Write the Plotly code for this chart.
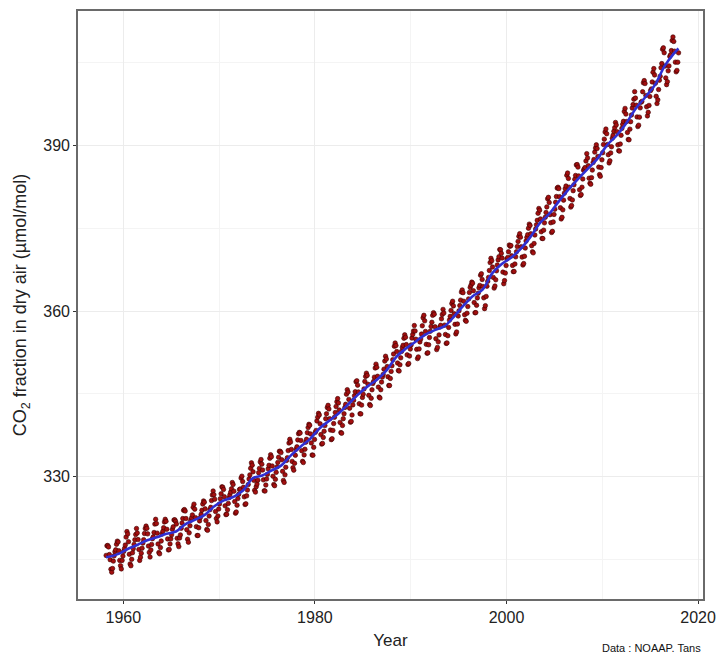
import plotly.graph_objects as go

# Monthly mean CO2 (ppm), Mauna Loa, Mar 1958 - Dec 2017
co2_1958_1959 = [315.70, 317.45, 317.51, 317.24, 315.86, 314.93, 313.20, 312.66, 313.33, 314.67,
                 315.62, 316.38, 316.71, 317.72, 318.29, 318.15, 316.54, 314.80, 313.84, 313.26, 314.80, 315.58]
co2_1960s = [
    316.43, 316.97, 317.58, 319.02, 320.03, 319.59, 318.18, 315.91, 314.16, 313.83, 315.00, 316.19,
    316.93, 317.70, 318.54, 319.48, 320.58, 319.77, 318.57, 316.79, 314.80, 315.38, 316.10, 317.01,
    317.94, 318.56, 319.68, 320.57, 321.02, 320.62, 319.61, 317.40, 316.25, 315.42, 316.69, 317.70,
    318.74, 319.07, 319.86, 321.38, 322.25, 321.48, 319.74, 317.77, 316.21, 315.99, 317.12, 318.31,
    319.57, 320.07, 320.73, 321.77, 322.25, 321.89, 320.44, 318.70, 316.70, 316.79, 317.79, 318.71,
    319.44, 320.44, 320.89, 322.13, 322.16, 321.87, 321.39, 318.81, 317.81, 317.30, 318.87, 319.42,
    320.62, 321.59, 322.39, 323.87, 324.01, 323.75, 322.39, 320.37, 318.64, 318.10, 319.79, 321.08,
    322.07, 322.50, 323.04, 324.42, 325.00, 324.09, 322.55, 320.92, 319.31, 319.31, 320.72, 321.96,
    322.57, 323.15, 323.89, 325.02, 325.57, 325.36, 324.14, 322.03, 320.41, 320.25, 321.31, 322.84,
    324.00, 324.42, 325.64, 326.66, 327.38, 326.70, 325.89, 323.67, 322.38, 321.78, 322.85, 324.12]
co2_1970s = [
    325.03, 325.99, 326.87, 328.13, 328.07, 327.66, 326.35, 324.69, 323.10, 323.16, 323.98, 325.13,
    326.17, 326.68, 327.18, 327.78, 328.92, 328.57, 327.34, 325.46, 323.36, 323.57, 324.80, 326.01,
    326.77, 327.63, 327.75, 329.72, 330.07, 329.09, 328.05, 326.32, 324.93, 325.06, 326.50, 327.55,
    328.54, 329.56, 330.30, 331.50, 332.48, 332.07, 330.87, 329.31, 327.51, 327.18, 328.16, 328.64,
    329.35, 330.71, 331.48, 332.65, 333.09, 332.25, 331.18, 329.40, 327.43, 327.37, 328.46, 329.57,
    330.40, 331.40, 332.04, 333.31, 333.96, 333.59, 331.91, 330.06, 328.56, 328.34, 329.49, 330.76,
    331.75, 332.56, 333.50, 334.58, 334.57, 334.34, 333.05, 330.94, 329.30, 328.94, 330.31, 331.68,
    332.93, 333.42, 334.70, 336.07, 336.75, 336.27, 334.92, 332.75, 331.59, 331.16, 332.40, 333.85,
    334.97, 335.39, 336.64, 337.76, 338.01, 337.89, 336.54, 334.68, 332.76, 332.54, 333.92, 334.95,
    336.23, 336.76, 337.96, 338.88, 339.47, 339.29, 337.73, 336.09, 333.91, 333.86, 335.29, 336.73]
co2_1980s = [
    338.01, 338.36, 340.08, 340.77, 341.46, 341.17, 339.56, 337.60, 335.88, 336.01, 337.10, 338.21,
    339.24, 340.48, 341.38, 342.51, 342.91, 342.25, 340.49, 338.43, 336.69, 336.86, 338.36, 339.61,
    340.75, 341.61, 342.70, 343.56, 344.13, 343.35, 342.06, 339.82, 337.97, 337.86, 339.26, 340.49,
    341.38, 342.52, 343.10, 344.94, 345.75, 345.32, 343.99, 342.39, 339.86, 339.99, 341.16, 342.99,
    343.82, 344.63, 345.38, 347.19, 347.36, 346.57, 345.34, 343.21, 341.39, 341.36, 342.95, 344.34,
    344.93, 345.89, 347.25, 348.16, 348.74, 348.34, 346.73, 344.72, 343.06, 342.87, 344.19, 345.73,
    346.87, 347.24, 348.02, 349.68, 350.38, 349.81, 348.18, 346.22, 344.41, 344.24, 345.74, 347.13,
    348.03, 348.51, 349.47, 350.93, 351.81, 351.31, 349.94, 348.10, 346.51, 346.49, 347.79, 349.06,
    350.09, 351.18, 352.21, 353.62, 354.21, 353.75, 352.67, 350.58, 349.23, 349.13, 350.27, 351.52,
    352.69, 353.41, 353.80, 355.07, 355.69, 355.25, 353.92, 352.06, 350.33, 350.50, 351.85, 353.12]
co2_1990s = [
    353.86, 355.10, 355.75, 356.38, 357.38, 356.39, 354.89, 353.06, 351.38, 351.69, 353.14, 354.41,
    354.93, 355.82, 357.33, 358.77, 359.23, 358.23, 356.30, 353.97, 352.34, 352.43, 353.89, 355.21,
    356.34, 357.21, 357.97, 359.22, 359.71, 359.43, 357.15, 354.99, 353.01, 353.41, 354.42, 355.68,
    357.10, 357.42, 358.59, 359.39, 360.30, 359.64, 357.45, 355.76, 354.14, 354.23, 355.53, 357.03,
    358.36, 359.04, 360.11, 361.36, 361.78, 360.94, 359.51, 357.59, 355.86, 356.21, 357.65, 359.10,
    360.04, 361.00, 361.98, 363.44, 363.83, 363.33, 361.78, 359.33, 358.32, 358.14, 359.61, 360.82,
    362.20, 363.36, 364.28, 364.69, 365.25, 365.06, 363.69, 361.55, 359.69, 359.72, 361.04, 362.39,
    363.24, 364.21, 364.65, 366.49, 366.77, 365.73, 364.46, 362.40, 360.44, 360.98, 362.65, 364.51,
    365.39, 366.10, 367.36, 368.79, 369.56, 369.13, 367.98, 366.10, 364.16, 364.54, 365.67, 367.30,
    368.35, 369.28, 369.84, 371.15, 371.12, 370.46, 369.61, 367.06, 364.95, 365.52, 366.88, 368.26]
co2_2000s = [
    369.45, 369.71, 370.75, 371.98, 371.75, 371.87, 370.02, 368.27, 367.15, 367.18, 368.53, 369.83,
    370.76, 371.69, 372.63, 373.55, 374.03, 373.40, 371.68, 369.78, 368.34, 368.61, 369.94, 371.42,
    372.70, 373.37, 373.85, 375.02, 375.76, 375.52, 374.01, 371.85, 370.75, 370.55, 372.25, 373.79,
    374.88, 375.64, 376.45, 377.73, 378.60, 378.28, 376.70, 374.38, 373.17, 373.14, 374.66, 375.99,
    377.00, 377.87, 378.88, 380.35, 380.62, 379.69, 377.47, 376.01, 374.25, 374.46, 376.16, 377.51,
    378.46, 379.73, 380.77, 382.29, 382.45, 382.21, 380.74, 378.74, 376.70, 377.00, 378.35, 380.11,
    381.38, 382.19, 382.67, 384.61, 385.03, 384.05, 382.46, 380.41, 378.85, 379.13, 380.15, 381.82,
    382.89, 383.90, 384.58, 386.50, 386.56, 386.10, 384.50, 381.99, 380.96, 381.12, 382.45, 383.95,
    385.52, 385.82, 386.03, 387.21, 388.54, 387.76, 386.36, 384.09, 383.18, 382.99, 384.19, 385.56,
    386.94, 387.48, 388.82, 389.55, 390.14, 389.48, 388.03, 386.11, 384.74, 384.43, 386.02, 387.42]
co2_2010s = [
    388.71, 390.20, 391.17, 392.46, 393.00, 392.15, 390.20, 388.35, 386.85, 387.24, 388.67, 389.79,
    391.33, 391.86, 392.60, 393.25, 394.19, 393.74, 392.51, 390.13, 389.08, 389.00, 390.28, 391.86,
    393.12, 393.86, 394.40, 396.18, 396.74, 395.71, 394.36, 392.39, 391.11, 391.05, 392.98, 394.34,
    395.55, 396.80, 397.43, 398.41, 399.78, 398.61, 397.32, 395.20, 393.45, 393.70, 395.16, 396.84,
    397.85, 398.01, 399.77, 401.38, 401.78, 401.25, 399.10, 397.03, 395.38, 396.03, 397.28, 398.91,
    399.98, 400.28, 401.54, 403.28, 403.96, 402.80, 401.31, 398.93, 397.63, 398.29, 400.16, 401.85,
    402.56, 404.12, 404.87, 407.45, 407.72, 406.83, 404.41, 402.27, 401.05, 401.59, 403.55, 404.45,
    406.17, 406.46, 407.22, 409.04, 409.69, 408.88, 407.12, 405.13, 403.37, 403.63, 405.12, 406.81]

# Smoothed trend (blue line): dates (decimal years) and values (ppm)
trend_years = [1958.2, 1958.5, 1959.5, 1960.5, 1961.5, 1962.5, 1963.5, 1964.5, 1965.5, 1966.5, 1967.5,
               1968.5, 1969.5, 1970.5, 1971.5, 1972.5, 1973.5, 1974.5, 1975.5, 1976.5, 1977.5,
               1978.5, 1979.5, 1980.5, 1981.5, 1982.5, 1983.5, 1984.5, 1985.5, 1986.5, 1987.5,
               1988.5, 1989.5, 1990.5, 1991.5, 1992.5, 1993.5, 1994.5, 1995.5, 1996.5, 1997.5,
               1998.5, 1999.5, 2000.5, 2001.5, 2002.5, 2003.5, 2004.5, 2005.5, 2006.5, 2007.5,
               2008.5, 2009.5, 2010.5, 2011.5, 2012.5, 2013.5, 2014.5, 2015.5, 2016.5, 2017.5, 2017.95]
trend_values = [315.40, 315.45, 315.98, 316.91, 317.64, 318.45, 318.99, 319.62, 320.04, 321.37, 322.18,
                323.05, 324.62, 325.68, 326.32, 327.46, 329.68, 330.19, 331.13, 332.03, 333.84,
                335.41, 336.84, 338.76, 340.12, 341.48, 343.15, 344.85, 346.35, 347.61, 349.31,
                351.69, 353.20, 354.45, 355.70, 356.54, 357.21, 358.96, 360.97, 362.74, 363.88,
                366.84, 368.54, 369.71, 371.32, 373.45, 375.98, 377.70, 379.98, 382.09, 384.02,
                385.83, 387.64, 390.10, 391.85, 394.06, 396.74, 398.81, 401.01, 404.41, 406.76, 407.60]

x_ticks = [1960, 1980, 2000, 2020]
y_ticks = [330, 360, 390]

monthly = co2_1958_1959 + co2_1960s + co2_1970s + co2_1980s + co2_1990s + co2_2000s + co2_2010s
dates = [1958 + (2 + i + 0.5) / 12 for i in range(len(monthly))]

fig = go.Figure()
fig.add_trace(go.Scatter(
    x=dates, y=monthly, mode="markers",
    marker=dict(color="#a30f0f", size=4.5, line=dict(color="#3d0000", width=0.6)),
    showlegend=False, hoverinfo="skip"))
fig.add_trace(go.Scatter(
    x=trend_years, y=trend_values, mode="lines", line_shape="spline",
    line=dict(color="#2f2fd2", width=2.6),
    showlegend=False, hoverinfo="skip"))

font_family = "Liberation Sans, Arial, Helvetica, sans-serif"
axis_common = dict(
    showline=True, linecolor="#6a6a6a", linewidth=1.6, mirror=True,
    ticks="outside", ticklen=3, tickwidth=1, tickcolor="#333333",
    tickfont=dict(size=16, color="#222222", family=font_family),
    showgrid=True, gridcolor="#ececec", gridwidth=1, zeroline=False,
)

fig.update_layout(
    width=725, height=657,
    margin=dict(l=78, r=13, t=9, b=58),
    paper_bgcolor="white", plot_bgcolor="white",
    font=dict(family=font_family, color="#222222"),
    xaxis=dict(
        range=[1955.27, 2020.51], tickmode="array", tickvals=x_ticks,
        ticktext=[str(v) for v in x_ticks],
        minor=dict(dtick=10, tick0=1960, showgrid=True, gridcolor="#f4f4f4", ticks=""),
        title=dict(text="Year", font=dict(size=17, color="#222222"), standoff=9),
        **axis_common),
    yaxis=dict(
        range=[307.8, 414.4], tickmode="array", tickvals=y_ticks,
        ticktext=[str(v) for v in y_ticks],
        minor=dict(dtick=15, tick0=330, showgrid=True, gridcolor="#f4f4f4", ticks=""),
        title=dict(text="CO<sub>2</sub> fraction in dry air (µmol/mol)",
                   font=dict(size=18, color="#222222"), standoff=12),
        **axis_common),
    annotations=[dict(
        text="Data : NOAAP. Tans", xref="paper", yref="paper", x=1.0, y=-0.083,
        xanchor="right", yanchor="middle", showarrow=False,
        font=dict(size=11, color="#111111",
                  family="Liberation Sans Narrow, Liberation Sans, Arial, sans-serif"))],
)

fig.write_html("out.html")
